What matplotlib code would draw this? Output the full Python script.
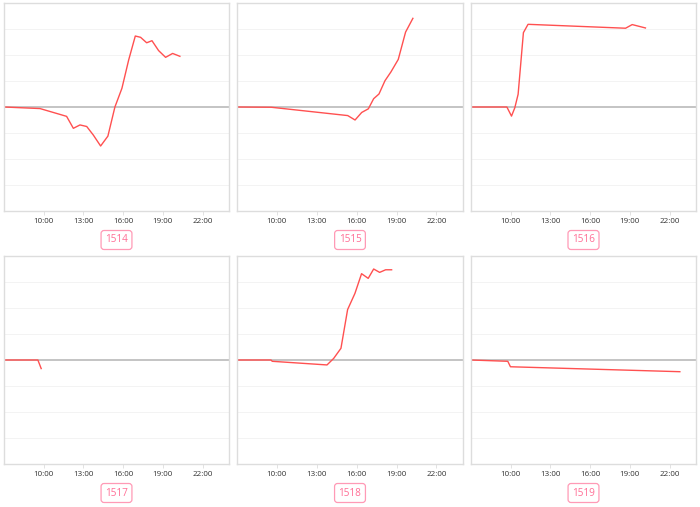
import numpy as np
import matplotlib as mp
import matplotlib.pyplot as plt

mp.rcParams['font.family'] = ['Open Sans', 'DejaVu Sans']

# hours of the day (decimal) and values for each panel
names = ['1514', '1515', '1516', '1517', '1518', '1519']

t_1514 = [7.0, 9.72, 11.73, 12.24, 12.74, 13.25, 13.75, 14.30, 14.85, 15.38,
          15.91, 16.42, 16.92, 17.32, 17.78, 18.18, 18.68, 19.21, 19.74, 20.29]
v_1514 = [0, -0.06, -0.36, -0.82, -0.69, -0.75, -1.08, -1.50, -1.12, 0,
          0.72, 1.81, 2.73, 2.68, 2.47, 2.55, 2.17, 1.91, 2.06, 1.95]

t_1515 = [7.0, 9.58, 15.33, 15.88, 16.38, 16.88, 17.28, 17.68, 18.13, 18.58,
          19.13, 19.68, 20.23]
v_1515 = [0, -0.01, -0.33, -0.50, -0.21, -0.07, 0.32, 0.50, 1.01, 1.35,
          1.83, 2.88, 3.41]

t_1516 = [7.0, 9.71, 10.06, 10.31, 10.56, 10.96, 11.31, 18.68, 19.18, 20.18]
v_1516 = [0, 0, -0.35, -0.03, 0.49, 2.86, 3.18, 3.03, 3.17, 3.04]

t_1517 = [7.0, 9.56, 9.81]
v_1517 = [0, 0, -0.33]

t_1518 = [7.0, 9.56, 9.65, 13.77, 14.27, 14.82, 15.32, 15.87, 16.37, 16.87,
          17.28, 17.73, 18.18, 18.63]
v_1518 = [0, 0, -0.05, -0.19, 0.06, 0.45, 1.94, 2.56, 3.32, 3.14,
          3.50, 3.37, 3.47, 3.47]

t_1519 = [7.0, 9.78, 9.98, 22.78]
v_1519 = [0, -0.05, -0.26, -0.45]

series = [(t_1514, v_1514), (t_1515, v_1515), (t_1516, v_1516),
          (t_1517, v_1517), (t_1518, v_1518), (t_1519, v_1519)]

xticks = [10, 13, 16, 19, 22]
xlabels = ['10:00', '13:00', '16:00', '19:00', '22:00']

# axes boxes in pixels (left, top, right, bottom)
W, H = 700, 507
cols = [(4, 229), (237, 463), (471, 696)]
rows = [(3, 211), (256, 464)]

fig = plt.figure(figsize=(W / 100, H / 100), dpi=100)

for i, (t, v) in enumerate(series):
    x0, x1 = cols[i % 3]
    y0, y1 = rows[i // 3]
    ax = fig.add_axes([x0 / W, 1 - y1 / H, (x1 - x0) / W, (y1 - y0) / H])

    for g in np.arange(-3, 4):
        if g != 0:
            ax.axhline(g, color='#f3f3f3', linewidth=0.7, zorder=0)
    ax.axhline(0, color='#b4b4b4', linewidth=1.1, zorder=1)
    ax.plot(t, v, color='#ff5050', linewidth=1.0, zorder=2)

    ax.set_xlim(7, 24)
    ax.set_ylim(-4, 4)
    ax.set_xticks(xticks)
    ax.set_xticklabels(xlabels)
    ax.set_yticks([])
    ax.tick_params(axis='x', length=3, width=0.6, color='#dddddd',
                   labelsize=5.8, labelcolor='#333333', pad=2)
    for s in ax.spines.values():
        s.set_color('#dddddd')
        s.set_linewidth(1.0)

    cx = (x0 + x1) / 2 / W
    fig.text(cx, 1 - (y1 + 29) / H, names[i], ha='center', va='center',
             fontsize=7.2, color='#ff6f96',
             bbox=dict(boxstyle='round,pad=0.4,rounding_size=0.3',
                       facecolor='white', edgecolor='#ff9ab6', linewidth=0.9))

fig.savefig('out.png', dpi=100)
